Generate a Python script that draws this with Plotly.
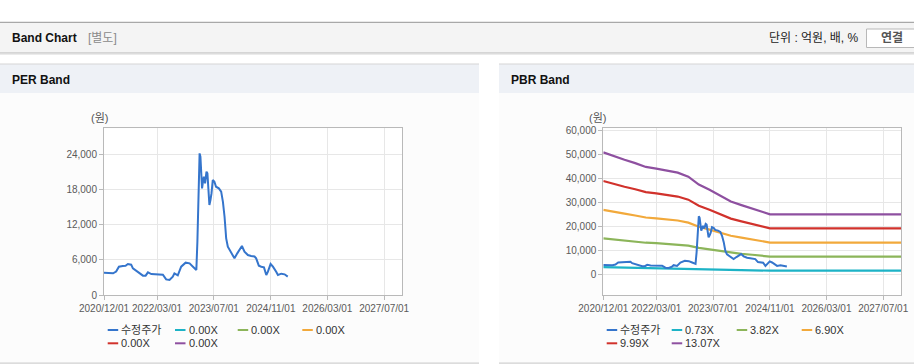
import plotly.graph_objects as go

W, H = 914, 364

# ---------------- data ----------------
price_dates = [
    "2020-12-01", "2021-01-19", "2021-02-17", "2021-03-15", "2021-04-08", "2021-05-11",
    "2021-06-04", "2021-06-24", "2021-07-22", "2021-08-06", "2021-09-04", "2021-10-02",
    "2021-10-31", "2021-11-23", "2021-12-13", "2022-01-11", "2022-03-22", "2022-04-20",
    "2022-05-18", "2022-06-16", "2022-07-14", "2022-07-28", "2022-08-26", "2022-09-24",
    "2022-11-01", "2022-12-05", "2023-01-03", "2023-02-01", "2023-02-10", "2023-02-15",
    "2023-02-21", "2023-03-01", "2023-03-08", "2023-03-14", "2023-03-22", "2023-03-28",
    "2023-04-06", "2023-04-17", "2023-04-29", "2023-05-07", "2023-05-16", "2023-05-24",
    "2023-06-02", "2023-06-11", "2023-06-22", "2023-07-06", "2023-07-20", "2023-08-13",
    "2023-09-02", "2023-09-17", "2023-10-01", "2023-10-15", "2023-10-29", "2023-11-27",
    "2023-12-25", "2024-01-18", "2024-02-07", "2024-02-27", "2024-03-20", "2024-04-18",
    "2024-05-16", "2024-06-14", "2024-06-28", "2024-07-21", "2024-08-11", "2024-09-03",
    "2024-09-23", "2024-10-07", "2024-10-30", "2024-11-19", "2024-12-17", "2025-01-01",
    "2025-01-30", "2025-02-27", "2025-03-26",
]
price_values = [
    3810, 3700, 3700, 4000, 4830, 4950,
    5000, 5290, 5180, 4550, 4100, 3810,
    3300, 3300, 3870, 3580, 3580, 3470,
    2670, 2560, 3130, 3700, 3360, 4830,
    5520, 5400, 4830, 4270, 9100, 14200,
    19050, 24170, 23600, 20760, 18200, 19050,
    20190, 19050, 21040, 20760, 18480, 15350,
    16210, 17340, 19620, 19340, 18480, 18200,
    17630, 15910, 13360, 9670, 8240, 7100,
    6260, 7110, 7790, 8360, 7400, 6820,
    6650, 6570, 6260, 5010, 4830, 4720,
    3410, 3980, 5290, 4830, 3980, 3410,
    3640, 3530, 3130,
]

band_dates = [
    "2020-12-01", "2021-03-01", "2021-06-01", "2021-09-01", "2021-12-01", "2022-03-01",
    "2022-06-01", "2022-09-01", "2022-12-01", "2023-03-01", "2023-06-01", "2023-09-01",
    "2023-12-01", "2024-03-01", "2024-06-01", "2024-09-01", "2024-11-01", "2027-12-01",
]
pbr_band_073 = [2850, 2750, 2680, 2600, 2510, 2470, 2420, 2370, 2280, 2090, 1970, 1830,
                1700, 1610, 1540, 1450, 1400, 1400]
pbr_band_382 = [14910, 14410, 14000, 13590, 13120, 12920, 12660, 12420, 11930, 10960, 10320, 9560,
                8890, 8450, 8070, 7600, 7310, 7310]
pbr_band_690 = [26920, 26030, 25290, 24550, 23700, 23330, 22860, 22440, 21540, 19800, 18630, 17260,
                16050, 15260, 14570, 13730, 13200, 13200]
pbr_band_999 = [38980, 37680, 36610, 35540, 34320, 33780, 33090, 32480, 31180, 28660, 26980, 24990,
                23230, 22090, 21090, 19870, 19110, 19110]
pbr_band_1307 = [51000, 49300, 47900, 46500, 44900, 44200, 43300, 42500, 40800, 37500, 35300, 32700,
                 30400, 28900, 27600, 26000, 25000, 25000]

per_legend_labels = ["수정주가", "0.00X", "0.00X", "0.00X", "0.00X", "0.00X"]
pbr_legend_labels = ["수정주가", "0.73X", "3.82X", "6.90X", "9.99X", "13.07X"]

x_tick_dates = ["2020-12-01", "2022-03-01", "2023-07-01", "2024-11-01", "2026-03-01", "2027-07-01"]
x_tick_labels = ["2020/12/01", "2022/03/01", "2023/07/01", "2024/11/01", "2026/03/01", "2027/07/01"]
x_range = ["2020-12-01", "2027-12-01"]

per_y_ticks = [0, 6000, 12000, 18000, 24000]
per_y_range = [0, 28450]
pbr_y_ticks = [0, 10000, 20000, 30000, 40000, 50000, 60000]
pbr_y_range = [-8800, 61100]

series_colors = ["#3575cc", "#1db3c6", "#8cb55a", "#f2a93b", "#d1322c", "#8e50a0"]

FONT = "Liberation Sans, Noto Sans CJK KR, sans-serif"


# ---------------- helpers ----------------
def X(px):
    return px / W


def Y(py):
    return 1 - py / H


fig = go.Figure()

# PER chart: price only
fig.add_trace(go.Scatter(x=price_dates, y=price_values, mode="lines",
                         line=dict(color=series_colors[0], width=2),
                         xaxis="x", yaxis="y", showlegend=False, hoverinfo="skip"))

# PBR chart: bands then price
pbr_bands = [pbr_band_073, pbr_band_382, pbr_band_690, pbr_band_999, pbr_band_1307]
for i, vals in enumerate(pbr_bands):
    fig.add_trace(go.Scatter(x=band_dates, y=vals, mode="lines",
                             line=dict(color=series_colors[i + 1], width=2.2),
                             xaxis="x2", yaxis="y2", showlegend=False, hoverinfo="skip"))
fig.add_trace(go.Scatter(x=price_dates, y=price_values, mode="lines",
                         line=dict(color=series_colors[0], width=2),
                         xaxis="x2", yaxis="y2", showlegend=False, hoverinfo="skip"))

tickfont = dict(family=FONT, size=10, color="#5a5a5a")


def xaxis(dom, anchor):
    return dict(type="date", domain=dom, range=x_range, tickmode="array",
                tickvals=x_tick_dates, ticktext=x_tick_labels, tickangle=0,
                showgrid=True, gridcolor="#e7e7e7", gridwidth=1,
                showline=True, linecolor="#b9b9b9", linewidth=1, mirror=True,
                ticks="outside", ticklen=4, tickcolor="#b9b9b9",
                tickfont=tickfont, zeroline=False, anchor=anchor,
                fixedrange=True, automargin=False)


def yaxis(dom, anchor, ticks, rng):
    return dict(domain=dom, range=rng, tickmode="array", tickvals=ticks,
                tickformat=",d", showgrid=True, gridcolor="#e7e7e7", gridwidth=1,
                showline=True, linecolor="#b9b9b9", linewidth=1, mirror=True,
                ticks="outside", ticklen=4, tickcolor="#b9b9b9",
                tickfont=tickfont, zeroline=False, anchor=anchor,
                fixedrange=True, automargin=False)


plot_top, plot_bot = 128.3, 295
fig.update_layout(
    width=W, height=H, template="none",
    margin=dict(l=0, r=0, t=0, b=0),
    paper_bgcolor="#ffffff", plot_bgcolor="#ffffff",
    xaxis=xaxis([X(104), X(402)], "y"),
    yaxis=yaxis([Y(plot_bot), Y(plot_top)], "x", per_y_ticks, per_y_range),
    xaxis2=xaxis([X(603.3), X(901)], "y2"),
    yaxis2=yaxis([Y(plot_bot), Y(plot_top)], "x2", pbr_y_ticks, pbr_y_range),
    showlegend=False,
    font=dict(family=FONT),
)

shapes = []
annotations = []


def rect(x0, y0, x1, y1, fill, line=None, lw=0):
    shapes.append(dict(type="rect", xref="paper", yref="paper",
                       x0=X(x0), x1=X(x1), y0=Y(y1), y1=Y(y0),
                       fillcolor=fill, line=dict(color=line or fill, width=lw),
                       layer="below"))


def hline(x0, x1, y, color, w=1, layer="below"):
    shapes.append(dict(type="line", xref="paper", yref="paper",
                       x0=X(x0), x1=X(x1), y0=Y(y), y1=Y(y),
                       line=dict(color=color, width=w), layer=layer))


def text(x, y, s, size=12, color="#111", bold=False, xanchor="left"):
    if bold:
        s = "<b>" + s + "</b>"
    annotations.append(dict(xref="paper", yref="paper", x=X(x), y=Y(y), text=s,
                            showarrow=False, xanchor=xanchor, yanchor="middle",
                            font=dict(family=FONT, size=size, color=color),
                            borderpad=0))


# top header bar
rect(0, 22.5, 914, 52.8, "#f4f4f4")
hline(0, 914, 22.3, "#a8a8a8", 1.2)
hline(0, 914, 53, "#b4b4b4", 1.2)
hline(0, 914, 54.2, "#e2e2e2", 1)
text(11, 38.5, "Band Chart", 12, "#111", bold=True)
text(87, 38.5, "[별도]", 12, "#8a8a8a")
text(860, 38.5, "단위 : 억원, 배, %", 12, "#222", xanchor="right")
# button
rect(866.5, 29, 920, 47.5, "#ffffff", "#b8b8b8", 1)
text(891.5, 38.5, "연결", 12, "#555", bold=True, xanchor="center")

# panels
for (px0, px1, title) in [(0, 479, "PER Band"), (499, 914, "PBR Band")]:
    rect(px0, 93, px1, 363, "#fcfcfc")
    rect(px0, 64, px1, 93, "#eef1f6")
    hline(px0, px1, 64, "#d6d6d6", 1.2)
    hline(px0, px1, 363.2, "#d0d0d0", 1.2)
    text(px0 + 11, 80, title, 12, "#111", bold=True)

# plot areas white
rect(104, plot_top, 402, plot_bot, "#ffffff")
rect(603.3, plot_top, 901, plot_bot, "#ffffff")

# y-axis unit labels
text(99, 118.5, "(원)", 11, "#555", xanchor="center")
text(597.5, 118, "(원)", 11, "#555", xanchor="center")

# legends
legend_rows = [330, 343.3]
per_item_x = [107.7, 175, 237.7, 302.3]
pbr_item_x = [606.7, 671.7, 736.7, 801.7]
for labels, item_x in [(per_legend_labels, per_item_x), (pbr_legend_labels, pbr_item_x)]:
    for i, lab in enumerate(labels):
        row, col = divmod(i, 4)
        lx = item_x[col]
        ly = legend_rows[row]
        hline(lx, lx + 10.5, ly, series_colors[i], 2, layer="above")
        text(lx + 12.5, ly, lab, 11, "#333")

fig.update_layout(shapes=shapes, annotations=annotations)

fig.write_html("out.html", config={"displayModeBar": False, "staticPlot": True},
               post_script="document.body.style.margin='0';document.body.style.overflow='hidden';")
